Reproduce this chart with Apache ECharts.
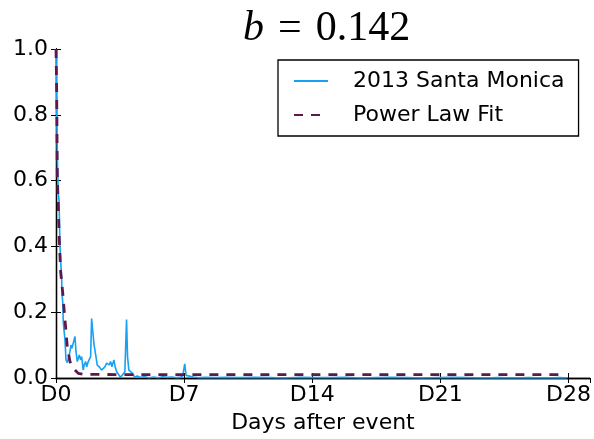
<!DOCTYPE html>
<html>
<head>
<meta charset="utf-8">
<script src="https://cdn.jsdelivr.net/npm/echarts@6/dist/echarts.min.js"></script>
<style>
html,body{margin:0;padding:0;background:#fff;}
#chart{width:594px;height:439px;}
</style>
</head>
<body>
<div id="chart"></div>
<script>
// x values are hours after the event (D = day ticks every 168 h)
const blueHours = [0, 1, 2, 3, 4, 5.2, 6.5, 7.5, 7.6, 8.8, 9.6, 11.8, 13.1, 14.8, 17, 18.3, 19.6, 20.9, 22.6, 24.9, 26.2, 27.9, 30.5, 32.3, 33.6, 35.7, 37, 38.9, 40.2, 42.3, 45.4, 46.7, 48, 49.7, 51, 52.4, 54, 56.7, 59.8, 61.9, 64.1, 66.4, 68.5, 69.8, 71.6, 73.3, 75.9, 77.6, 79.5, 81.5, 84.7, 87.3, 90.3, 92.5, 93.8, 95.5, 97.8, 100.4, 103.4, 106.4, 110, 116, 122, 128, 134, 140, 146, 152, 158, 163, 166, 168.8, 170.5, 173, 180, 188, 196, 210, 224, 240, 260, 280, 300, 320, 340, 360, 380, 400, 420, 440, 460, 480, 500, 520, 540, 560, 580, 600, 620, 640, 660, 670];
const blueValues = [1.0, 0.80, 0.65, 0.56, 0.54, 0.40, 0.34, 0.30, 0.27, 0.23, 0.167, 0.115, 0.055, 0.047, 0.05, 0.08, 0.10, 0.09, 0.106, 0.126, 0.08, 0.05, 0.07, 0.055, 0.065, 0.024, 0.04, 0.05, 0.034, 0.05, 0.065, 0.181, 0.181, 0.105, 0.085, 0.065, 0.04, 0.034, 0.024, 0.019, 0.034, 0.045, 0.05, 0.04, 0.05, 0.034, 0.055, 0.034, 0.019, 0.014, 0.002, 0.002, 0.019, 0.178, 0.065, 0.024, 0.019, 0.014, 0.002, 0.006, 0.002, 0.004, 0.001, 0.003, 0.001, 0.004, 0.002, 0.003, 0.001, 0.002, 0.006, 0.043, 0.008, 0.002, 0.003, 0.001, 0.002, 0.001, 0.002, 0.001, 0.002, 0.001, 0.0, 0.002, 0.001, 0.001, 0.002, 0.0, 0.001, 0.002, 0.001, 0.0, 0.001, 0.002, 0.001, 0.0, 0.001, 0.0, 0.001, 0.0, 0.001, 0.0];

const fitHours = [0, 0.9, 1.7, 3.0, 4.3, 6.2, 7.9, 8.8, 11.8, 14.8, 18.3, 22.6, 29.2, 35.7, 48, 96, 200, 336, 504, 669];
const fitValues = [1.0, 0.875, 0.62, 0.52, 0.42, 0.32, 0.28, 0.26, 0.176, 0.095, 0.05, 0.03, 0.014, 0.011, 0.011, 0.010, 0.010, 0.010, 0.010, 0.010];

const xTickStep = 168;
const yTicks = [0.0, 0.2, 0.4, 0.6, 0.8, 1.0];

const blueData = blueHours.map((h, i) => [h, blueValues[i]]);
const fitData = fitHours.map((h, i) => [h, fitValues[i]]);

const FONT = 'DejaVu Sans';
const axisLine = {show: true, lineStyle: {color: '#000', width: 1.3}};
const tick = {show: true, inside: true, length: 5, lineStyle: {color: '#000', width: 1}};
const serif = {fontFamily: 'Liberation Serif', fontWeight: 'normal', fontSize: 42, color: '#000'};

const chart = echarts.init(document.getElementById('chart'), null, {renderer: 'canvas'});
chart.setOption({
  animation: false,
  backgroundColor: '#fff',
  title: {
    text: '{i|b}{e|=}{r|0.142}',
    left: 238, top: 3,
    textStyle: {
      fontWeight: 'normal',
      rich: {
        i: Object.assign({}, serif, {fontStyle: 'italic'}),
        e: Object.assign({}, serif, {padding: [0, 14, 0, 14]}),
        r: serif
      }
    }
  },
  legend: {
    left: 278, top: 60, orient: 'vertical',
    borderColor: '#000', borderWidth: 1.3, borderRadius: 0,
    padding: [10, 14, 10, 15],
    itemWidth: 34, itemHeight: 14, itemGap: 12,
    itemStyle: {opacity: 0, borderWidth: 0},
    textStyle: {fontSize: 22, fontFamily: FONT, color: '#000', lineHeight: 22, padding: [0, 0, 0, 20]},
    data: ['2013 Santa Monica', 'Power Law Fit']
  },
  grid: {left: 56, right: 3, top: 49, bottom: 61, containLabel: false},
  xAxis: [{
    type: 'value', min: 0, max: 700, interval: xTickStep,
    axisLine: axisLine, axisTick: tick, splitLine: {show: false},
    axisLabel: {
      fontSize: 22, fontFamily: FONT, color: '#000', margin: 6, showMaxLabel: false,
      formatter: v => (v % xTickStep === 0 ? 'D' + (v / 24) : '')
    },
    name: 'Days after event', nameLocation: 'middle', nameGap: 34,
    nameTextStyle: {fontSize: 22, fontFamily: FONT, color: '#000'}
  }, {
    type: 'value', position: 'top', min: 0, max: 700, interval: xTickStep,
    axisLine: axisLine, axisTick: tick, splitLine: {show: false}, axisLabel: {show: false}
  }],
  yAxis: [{
    type: 'value', min: yTicks[0], max: yTicks[yTicks.length - 1], interval: 0.2,
    axisLine: axisLine, axisTick: tick, splitLine: {show: false},
    axisLabel: {fontSize: 22, fontFamily: FONT, color: '#000', margin: 8, formatter: v => v.toFixed(1)}
  }, {
    type: 'value', position: 'right', min: 0, max: 1, interval: 0.2,
    axisLine: axisLine, axisTick: tick, splitLine: {show: false}, axisLabel: {show: false}
  }],
  series: [{
    name: '2013 Santa Monica', type: 'line', data: blueData,
    showSymbol: false, symbol: 'none', color: '#18a0f2',
    lineStyle: {color: '#18a0f2', width: 1.6}, z: 3
  }, {
    name: 'Power Law Fit', type: 'line', data: fitData, smooth: false,
    showSymbol: false, symbol: 'none', color: '#5c1a4c',
    lineStyle: {color: '#5c1a4c', width: 2.8, type: [9, 8]}, z: 4
  }]
});
</script>
</body>
</html>
